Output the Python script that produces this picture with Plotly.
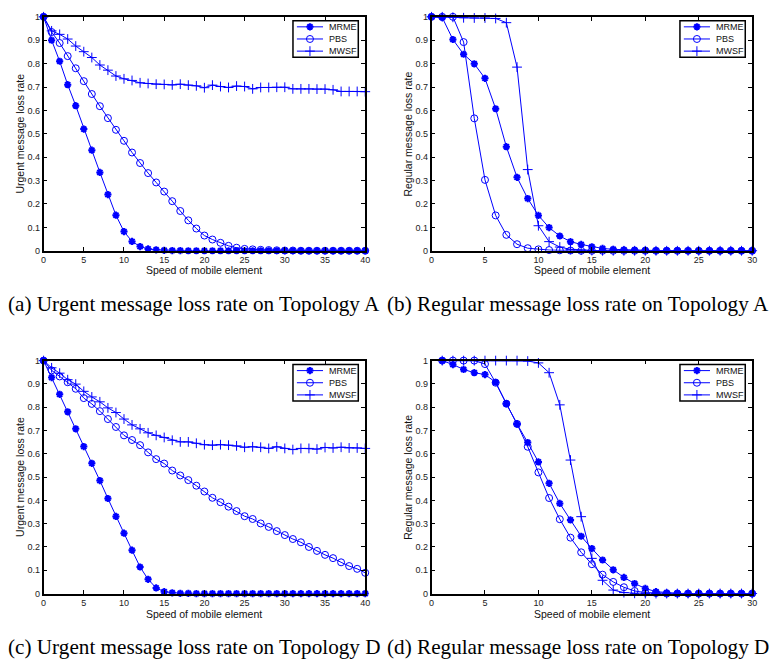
import plotly.graph_objects as go

# ---------------- data ----------------
speed_40 = list(range(0, 41))
speed_30 = list(range(0, 31))
speed_d = list(range(1, 31))

series_names = ["MRME", "PBS", "MWSF"]

mrme_a = [1.0, 0.90, 0.81, 0.71, 0.62, 0.52, 0.43, 0.335, 0.24, 0.152, 0.082, 0.04, 0.018, 0.008, 0.004,
          0.002, 0.001, 0.001, 0, 0, 0, 0, 0, 0, 0, 0, 0, 0, 0, 0, 0, 0, 0, 0, 0, 0, 0, 0, 0, 0, 0]
pbs_a = [1.0, 0.935, 0.888, 0.832, 0.78, 0.725, 0.67, 0.618, 0.567, 0.517, 0.47, 0.42, 0.375, 0.332, 0.292,
         0.253, 0.212, 0.17, 0.13, 0.095, 0.065, 0.048, 0.034, 0.021, 0.013, 0.008, 0.006, 0.004, 0.003,
         0.002, 0.001, 0.001, 0, 0, 0, 0, 0, 0, 0, 0, 0]
mwsf_a = [1.0, 0.94, 0.925, 0.905, 0.875, 0.851, 0.826, 0.794, 0.772, 0.747, 0.735, 0.728, 0.718, 0.715,
          0.712, 0.711, 0.709, 0.712, 0.708, 0.705, 0.697, 0.708, 0.702, 0.698, 0.704, 0.702, 0.692, 0.698,
          0.698, 0.699, 0.699, 0.692, 0.692, 0.692, 0.691, 0.691, 0.688, 0.681, 0.681, 0.681, 0.680]

mrme_b = [1.0, 0.997, 0.903, 0.84, 0.799, 0.737, 0.607, 0.445, 0.314, 0.223, 0.151, 0.099, 0.063, 0.039,
          0.027, 0.017, 0.01, 0.006, 0.004, 0.003, 0.002, 0.001, 0.001, 0.001, 0, 0, 0, 0, 0, 0, 0]
pbs_b = [1.0, 1.0, 1.0, 0.892, 0.566, 0.303, 0.151, 0.068, 0.028, 0.011, 0.006, 0.003, 0.002, 0.001,
         0, 0, 0, 0, 0, 0, 0, 0, 0, 0, 0, 0, 0, 0, 0, 0, 0]
mwsf_b = [1.0, 1.0, 0.998, 0.996, 0.995, 0.995, 0.993, 0.975, 0.785, 0.347, 0.107, 0.039, 0.016, 0.006,
          0.003, 0.001, 0, 0, 0, 0, 0, 0, 0, 0, 0, 0, 0, 0, 0, 0, 0]

mrme_c = [1.0, 0.927, 0.855, 0.78, 0.707, 0.631, 0.559, 0.485, 0.408, 0.331, 0.259, 0.186, 0.114, 0.061,
          0.024, 0.008, 0.003, 0.001, 0.001, 0, 0, 0, 0, 0, 0, 0, 0, 0, 0, 0, 0, 0, 0, 0, 0, 0, 0, 0, 0, 0, 0]
pbs_c = [1.0, 0.958, 0.932, 0.907, 0.879, 0.839, 0.814, 0.783, 0.749, 0.715, 0.679, 0.659, 0.637, 0.606,
         0.577, 0.558, 0.528, 0.507, 0.487, 0.463, 0.438, 0.411, 0.392, 0.373, 0.354, 0.332, 0.320, 0.301,
         0.286, 0.268, 0.251, 0.234, 0.220, 0.200, 0.183, 0.166, 0.152, 0.134, 0.118, 0.106, 0.089]
mwsf_c = [1.0, 0.969, 0.946, 0.918, 0.899, 0.868, 0.844, 0.823, 0.797, 0.777, 0.749, 0.724, 0.707, 0.690,
          0.679, 0.670, 0.658, 0.651, 0.651, 0.645, 0.639, 0.637, 0.639, 0.637, 0.634, 0.628, 0.630, 0.628,
          0.623, 0.630, 0.623, 0.618, 0.623, 0.623, 0.620, 0.627, 0.625, 0.628, 0.625, 0.625, 0.623]

mrme_d = [1.0, 0.983, 0.962, 0.948, 0.94, 0.907, 0.815, 0.728, 0.648, 0.565, 0.473, 0.387, 0.316, 0.246,
          0.193, 0.144, 0.102, 0.069, 0.043, 0.022, 0.008, 0.003, 0.001, 0, 0, 0, 0, 0, 0, 0]
pbs_d = [1.0, 1.0, 1.0, 1.0, 0.985, 0.905, 0.815, 0.728, 0.63, 0.52, 0.41, 0.319, 0.24, 0.177, 0.126,
         0.081, 0.05, 0.027, 0.011, 0.004, 0.002, 0, 0, 0, 0, 0, 0, 0, 0, 0]
mwsf_d = [1.0, 1.0, 1.0, 1.0, 1.0, 1.0, 1.0, 1.0, 0.998, 0.99, 0.948, 0.81, 0.573, 0.33, 0.151, 0.057,
          0.015, 0.004, 0.001, 0, 0, 0, 0, 0, 0, 0, 0, 0, 0, 0]

y_titles = ["Urgent message loss rate", "Regular message loss rate",
            "Urgent message loss rate", "Regular message loss rate"]
x_title = "Speed of mobile element"
captions = ["(a) Urgent message loss rate on Topology A",
            "(b) Regular message loss rate on Topology A",
            "(c) Urgent message loss rate on Topology D",
            "(d) Regular message loss rate on Topology D"]

panels = [
    (speed_40, [mrme_a, pbs_a, mwsf_a], 40),
    (speed_30, [mrme_b, pbs_b, mwsf_b], 30),
    (speed_40, [mrme_c, pbs_c, mwsf_c], 40),
    (speed_d, [mrme_d, pbs_d, mwsf_d], 30),
]

# ---------------- style / layout ----------------
W, H = 775, 667
BLUE = "#0000ff"
TICK_FONT = dict(family="Liberation Sans, Arial, sans-serif", size=9, color="#222222")
LABEL_FONT = dict(family="Liberation Sans, Arial, sans-serif", size=10.5, color="#111111")
CAP_FONT = dict(family="Liberation Serif, Times New Roman, serif", size=21.2, color="#000000")

# plot-area pixel boxes: (left, right, top, bottom)
boxes = [(41, 366, 12, 249.5), (433, 757, 12, 249.5),
         (41, 366, 361, 597.5), (433, 757, 361, 597.5)]
caption_y = [304, 304, 652, 652]
caption_x = [193, 581, 193, 581]
xtitle_y = [269.5, 269.5, 618, 618]
ytitle_x = [17, 409, 17, 409]

markers = [
    dict(symbol="asterisk", size=6, line=dict(width=2, color=BLUE), color=BLUE),
    dict(symbol="circle-open", size=7, line=dict(width=1, color=BLUE), color=BLUE),
    dict(symbol="cross-thin", size=7, line=dict(width=1, color=BLUE), color=BLUE),
]


def px_x(p):
    return p / W


def px_y(p):
    return 1 - p / H


fig = go.Figure()
layout = dict(width=W, height=H, margin=dict(l=0, r=0, t=0, b=0),
              paper_bgcolor="white", plot_bgcolor="white", showlegend=False)
annotations = []
shapes = []

for i, (xs, ys_list, xmax) in enumerate(panels):
    n = i + 1
    L, R, T, B = boxes[i]
    xa = "xaxis" if n == 1 else f"xaxis{n}"
    ya = "yaxis" if n == 1 else f"yaxis{n}"
    xr = "x" if n == 1 else f"x{n}"
    yr = "y" if n == 1 else f"y{n}"
    layout[xa] = dict(domain=[px_x(L), px_x(R)], range=[0, xmax], anchor=yr,
                      dtick=5, tick0=0, ticks="inside", ticklen=4, tickwidth=1, tickcolor="black",
                      showline=True, linecolor="black", linewidth=1.5, mirror="ticks",
                      showgrid=False, zeroline=False, tickfont=TICK_FONT)
    layout[ya] = dict(domain=[px_y(B), px_y(T)], range=[0, 1], anchor=xr,
                      dtick=0.1, tick0=0, ticks="inside", ticklen=4, tickwidth=1, tickcolor="black",
                      showline=True, linecolor="black", linewidth=1.5, mirror="ticks",
                      showgrid=False, zeroline=False, tickfont=TICK_FONT)
    for k, ys in enumerate(ys_list):
        fig.add_trace(go.Scatter(x=xs, y=ys, mode="lines+markers", name=series_names[k],
                                 line=dict(color=BLUE, width=1), marker=markers[k],
                                 cliponaxis=False, xaxis=xr, yaxis=yr))

    # axis titles and caption
    annotations.append(dict(text=x_title, xref="paper", yref="paper", x=px_x((L + R) / 2),
                            y=px_y(xtitle_y[i]), showarrow=False, font=LABEL_FONT,
                            xanchor="center", yanchor="middle"))
    annotations.append(dict(text=y_titles[i], xref="paper", yref="paper", x=px_x(ytitle_x[i]),
                            y=px_y((T + B) / 2), showarrow=False, font=LABEL_FONT, textangle=-90,
                            xanchor="center", yanchor="middle"))
    annotations.append(dict(text=captions[i], xref="paper", yref="paper", x=px_x(caption_x[i]),
                            y=px_y(caption_y[i]), showarrow=False, font=CAP_FONT,
                            xanchor="center", yanchor="middle"))

    # manual legend box (top right corner of the plot)
    lx1 = R - 7
    lx0 = lx1 - 66
    ly0 = T + 4
    ly1 = ly0 + 37
    m = n + 4
    lxa, lya, lxr, lyr = f"xaxis{m}", f"yaxis{m}", f"x{m}", f"y{m}"
    layout[lxa] = dict(domain=[px_x(lx0), px_x(lx1)], range=[0, 1], anchor=lyr, visible=False,
                       fixedrange=True)
    layout[lya] = dict(domain=[px_y(ly1), px_y(ly0)], range=[0, 3], anchor=lxr, visible=False,
                       fixedrange=True)
    shapes.append(dict(type="rect", xref="paper", yref="paper", x0=px_x(lx0), x1=px_x(lx1),
                       y0=px_y(ly1), y1=px_y(ly0), line=dict(color="black", width=1.5),
                       fillcolor="rgba(0,0,0,0)", layer="above"))
    for k, name in enumerate(series_names):
        row = 2.5 - k
        fig.add_trace(go.Scatter(x=[0.06, 0.46], y=[row, row], mode="lines",
                                 line=dict(color=BLUE, width=1), xaxis=lxr, yaxis=lyr,
                                 hoverinfo="skip", cliponaxis=False))
        fig.add_trace(go.Scatter(x=[0.26], y=[row], mode="markers", marker=markers[k],
                                 xaxis=lxr, yaxis=lyr, hoverinfo="skip", cliponaxis=False))
        annotations.append(dict(text=name, xref=lxr, yref=lyr, x=0.52, y=row, showarrow=False,
                                font=dict(family="Liberation Sans, Arial, sans-serif", size=9,
                                          color="#111111"),
                                xanchor="left", yanchor="middle"))

layout["annotations"] = annotations
layout["shapes"] = shapes
fig.update_layout(**layout)
fig.write_html("out.html", config={"displayModeBar": False},
               post_script="document.body.style.margin='0';document.body.style.padding='0';"
                           "document.body.style.overflow='hidden';")
